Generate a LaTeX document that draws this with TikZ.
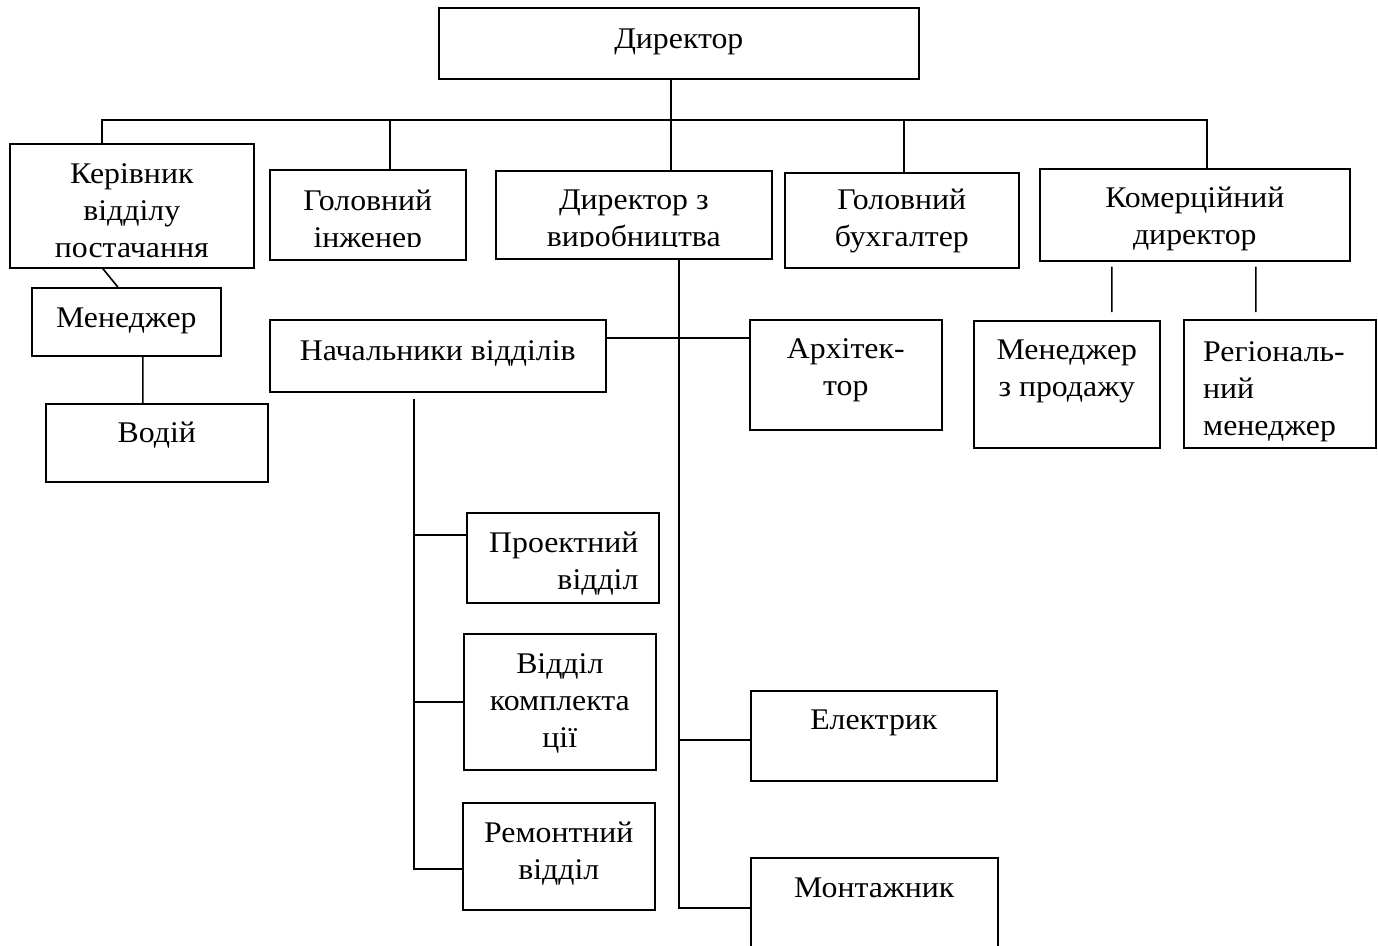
\documentclass[tikz,border=0pt]{standalone}
\usepackage{fontspec}
\setmainfont{Liberation Serif}[FakeStretch=1.06]
\usetikzlibrary{positioning}

\tikzset{
  unit/.style={draw, line width=1.6bp, anchor=north west, inner sep=0pt},
  txt/.style={align=center, inner sep=0pt, font=\fontsize{30bp}{37bp}\selectfont},
  link/.style={line width=1.6bp}
}

\begin{document}
\begin{tikzpicture}[x=1bp,y=-1bp]
    \useasboundingbox (0,0) rectangle (1378,945);
    \clip (0,0) rectangle (1378,945);

    \node[unit, minimum width=480bp, minimum height=71bp]  (dir)    at (438,7)    {};
    \node[unit, minimum width=244bp, minimum height=124bp] (ker)    at (9,143)    {};
    \node[unit, minimum width=196bp, minimum height=90bp]  (inzh)   at (269,169)  {};
    \node[unit, minimum width=276bp, minimum height=88bp]  (dyrv)   at (495,170)  {};
    \node[unit, minimum width=234bp, minimum height=95bp]  (bukh)   at (784,172)  {};
    \node[unit, minimum width=310bp, minimum height=92bp]  (kom)    at (1039,168) {};
    \node[unit, minimum width=189bp, minimum height=68bp]  (men)    at (31,287)   {};
    \node[unit, minimum width=222bp, minimum height=78bp]  (vod)    at (45,403)   {};
    \node[unit, minimum width=336bp, minimum height=72bp]  (nach)   at (269,319)  {};
    \node[unit, minimum width=192bp, minimum height=110bp] (arkh)   at (749,319)  {};
    \node[unit, minimum width=186bp, minimum height=127bp] (menpr)  at (973,320)  {};
    \node[unit, minimum width=192bp, minimum height=128bp] (reg)    at (1183,319) {};
    \node[unit, minimum width=192bp, minimum height=90bp]  (proekt) at (466,512)  {};
    \node[unit, minimum width=192bp, minimum height=136bp] (komp)   at (463,633)  {};
    \node[unit, minimum width=192bp, minimum height=107bp] (remont) at (462,802)  {};
    \node[unit, minimum width=246bp, minimum height=90bp]  (elektr) at (750,690)  {};
    \node[unit, minimum width=247bp, minimum height=100bp] (mont)   at (750,857)  {};

    \node[txt, below=22bp of dir.north]    (dir-t)    {Директор};
    \node[txt, below=20bp of ker.north]    (ker-t)    {Керівник\\відділу\\постачання};
    \node[txt, below=17bp of bukh.north]   (bukh-t)   {Головний\\бухгалтер};
    \node[txt, below=19bp of kom.north]    (kom-t)    {Комерційний\\директор};
    \node[txt, below=21bp of men.north]    (men-t)    {Менеджер};
    \node[txt, below=19bp of vod.north]    (vod-t)    {Водій};
    \node[txt, below=21bp of nach.north]   (nach-t)   {Начальники відділів};
    \node[txt, below=19bp of arkh.north]   (arkh-t)   {Архітек-\\тор};
    \node[txt, below=20bp of menpr.north]  (menpr-t)  {Менеджер\\з продажу};
    \node[txt, align=left, below right=22bp and 20bp of reg.north west] (reg-t) {Регіональ-\\ний\\менеджер};
    \node[txt, align=right, below left=20bp and 21bp of proekt.north east] (proekt-t) {Проектний\\відділ};
    \node[txt, below=20bp of komp.north]   (komp-t)   {Відділ\\комплекта\\ції};
    \node[txt, below=20bp of remont.north] (remont-t) {Ремонтний\\відділ};
    \node[txt, below=20bp of elektr.north] (elektr-t) {Електрик};
    \node[txt, below=21bp of mont.north]   (mont-t)   {Монтажник};

    \begin{scope}
      \clip (inzh.north west) rectangle ([yshift=14bp]inzh.south east)
            (dyrv.north west) rectangle ([yshift=13bp]dyrv.south east);
      \node[txt, below=21bp of inzh.north] (inzh-t) {Головний\\інженер};
      \node[txt, below=20bp of dyrv.north] (dyrv-t) {Директор з\\виробництва};
    \end{scope}

    \coordinate (busL)  at (102,120);
    \coordinate (busR)  at (1207,120);
    \coordinate (trunk) at (671,120);
    \coordinate (j1)    at (390,120);
    \coordinate (j2)    at (904,120);
    \coordinate (vtop)  at ([xshift=45bp]dyrv.south);
    \coordinate (ltop)  at ([xshift=-24bp,yshift=-6bp]nach.south);

    \draw[link] (ker.north -| busL) -- (busL) -- (busR) -- (kom.north -| busR);
    \draw[link] (dir.south -| trunk) -- (dyrv.north -| trunk);
    \draw[link] (j1) -- (inzh.north -| j1);
    \draw[link] (j2) -- (bukh.north -| j2);
    \draw[link] ([xshift=-29bp]ker.south) -- ([xshift=-8.5bp]men.north);
    \draw[link] ([xshift=16.5bp]men.south) -- ([xshift=-14bp]vod.north);
    \draw[link] ([xshift=-83bp,yshift=-5bp]kom.south) -- ([xshift=45bp,yshift=8bp]menpr.north);
    \draw[link] ([xshift=61bp,yshift=-5bp]kom.south) -- ([xshift=-24bp,yshift=7bp]reg.north);
    \draw[link] ([yshift=18bp]nach.east) -- ([yshift=18bp]nach.east -| arkh.west);
    \draw[link] (vtop) |- (mont.west);
    \draw[link] ([yshift=-4bp]elektr.west) -- ([yshift=-4bp]elektr.west -| vtop);
    \draw[link] (ltop) |- ([yshift=-12.5bp]remont.west);
    \draw[link] (komp.west) -- (komp.west -| ltop);
    \draw[link] ([yshift=23bp]proekt.west) -- ([yshift=23bp]proekt.west -| ltop);
\end{tikzpicture}
\end{document}
